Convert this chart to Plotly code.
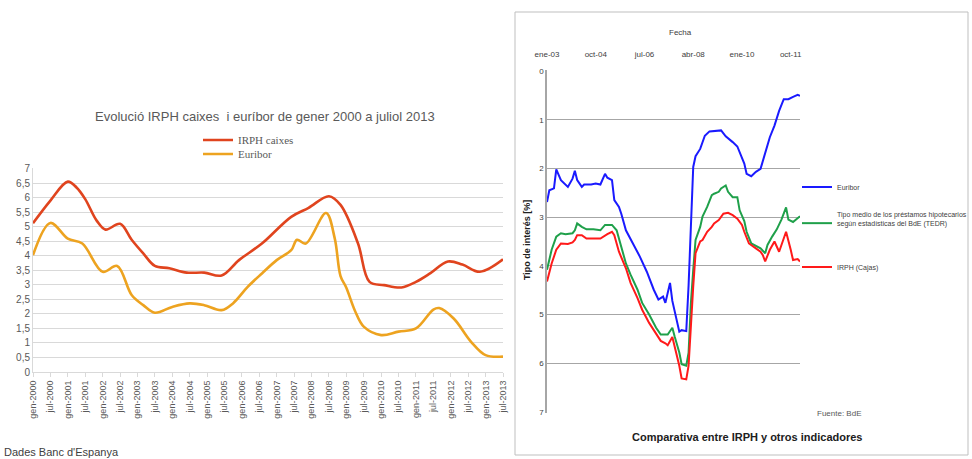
import plotly.graph_objects as go

# ---------------- Left chart data (months since gen-2000) ----------------
left_irph_months = [0, 6, 12, 15, 18, 22, 25, 30, 34, 38, 42, 47, 53, 59, 65, 71, 79, 89, 95, 102, 106, 112, 116, 121, 127, 132, 137, 143, 148, 154, 162]
left_irph_values = [5.12, 5.9, 6.55, 6.35, 5.95, 5.2, 4.9, 5.1, 4.55, 4.08, 3.65, 3.57, 3.42, 3.42, 3.32, 3.85, 4.43, 5.34, 5.65, 6.05, 5.75, 4.43, 3.1, 2.99, 2.91, 3.1, 3.4, 3.8, 3.7, 3.45, 3.88]

left_eur_months = [0, 6, 12, 17, 24, 29, 34, 38, 42, 48, 54, 59, 65, 69, 74, 79, 84, 89, 91, 94, 101, 104, 106, 108, 111, 114, 120, 126, 132, 138, 140, 145, 151, 156, 162]
left_eur_values = [4.02, 5.13, 4.59, 4.42, 3.45, 3.65, 2.65, 2.3, 2.04, 2.24, 2.36, 2.3, 2.13, 2.37, 2.93, 3.4, 3.85, 4.19, 4.55, 4.42, 5.47, 4.6, 3.3, 2.9, 2.1, 1.56, 1.27, 1.39, 1.5, 2.15, 2.2, 1.84, 1.04, 0.58, 0.53]

left_tick_months = list(range(0, 163, 6))
left_tick_labels = []
for yr in range(2000, 2014):
    left_tick_labels += ["gen-%d" % yr, "jul-%d" % yr]
left_y_vals = [i * 0.5 for i in range(15)]
left_y_text = [("%g" % v).replace(".", ",") for v in left_y_vals]

# ---------------- Right chart data (months since ene-03) ----------------
r_eur_m = [0, 1, 3, 4, 6, 7, 9, 11, 12, 13, 15, 16, 19, 21, 23, 25, 26, 28, 29, 31, 32, 34, 36, 40, 43, 46, 48, 50, 51, 53, 54, 57, 58, 60, 61, 62, 63, 64, 66, 68, 70, 75, 77, 80, 82, 85, 86, 88, 90, 92, 94, 96, 98, 100, 102, 104, 106, 108, 109]
r_eur_v = [2.69, 2.45, 2.41, 2.02, 2.24, 2.28, 2.38, 2.21, 2.05, 2.24, 2.38, 2.33, 2.33, 2.31, 2.33, 2.11, 2.19, 2.24, 2.65, 2.79, 2.93, 3.27, 3.45, 3.81, 4.12, 4.49, 4.69, 4.63, 4.76, 4.35, 4.72, 5.35, 5.32, 5.34, 4.4, 3.2, 1.97, 1.75, 1.6, 1.33, 1.24, 1.22, 1.34, 1.46, 1.55, 1.9, 2.11, 2.16, 2.07, 2.01, 1.67, 1.36, 1.12, 0.82, 0.58, 0.58, 0.53, 0.49, 0.51]

r_tedr_m = [0, 2, 4, 6, 8, 11, 12, 13, 15, 17, 20, 23, 25, 28, 30, 32, 34, 36, 39, 41, 44, 47, 49, 52, 54, 55, 57, 58, 60, 61, 62, 63, 64, 66, 67, 69, 71, 72, 74, 75, 77, 78, 80, 82, 83, 85, 86, 88, 90, 92, 94, 95, 97, 99, 101, 103, 104, 106, 109]
r_tedr_v = [4.08, 3.67, 3.4, 3.33, 3.35, 3.33, 3.27, 3.13, 3.2, 3.25, 3.25, 3.27, 3.16, 3.16, 3.27, 3.61, 3.95, 4.18, 4.49, 4.76, 5.0, 5.27, 5.41, 5.41, 5.27, 5.45, 5.78, 6.02, 6.05, 5.78, 4.76, 4.08, 3.47, 3.2, 2.99, 2.79, 2.55, 2.52, 2.48, 2.41, 2.35, 2.48, 2.59, 2.59, 2.86, 3.08, 3.3, 3.54, 3.59, 3.64, 3.74, 3.57, 3.4, 3.25, 3.05, 2.8, 3.05, 3.1, 2.98]

r_irph_m = [0, 2, 4, 6, 9, 11, 12, 13, 15, 17, 20, 23, 26, 28, 29, 31, 34, 36, 39, 41, 44, 47, 49, 51, 52, 54, 55, 57, 58, 60, 61, 62, 63, 64, 66, 67, 69, 71, 72, 74, 76, 78, 80, 82, 84, 85, 87, 90, 92, 93, 94, 96, 98, 100, 101, 103, 105, 106, 108, 109]
r_irph_v = [4.32, 3.95, 3.67, 3.54, 3.55, 3.52, 3.47, 3.37, 3.37, 3.44, 3.44, 3.44, 3.35, 3.3, 3.37, 3.71, 4.05, 4.35, 4.66, 4.9, 5.17, 5.41, 5.54, 5.59, 5.63, 5.46, 5.65, 6.05, 6.31, 6.33, 6.05, 5.1, 4.42, 3.74, 3.5, 3.47, 3.3, 3.2, 3.13, 3.06, 2.93, 2.91, 2.96, 3.03, 3.16, 3.3, 3.54, 3.64, 3.71, 3.78, 3.91, 3.67, 3.5, 3.71, 3.57, 3.3, 3.67, 3.88, 3.86, 3.91]

right_tick_months = [0, 21, 42, 63, 84, 105]
right_tick_labels = ["ene-03", "oct-04", "jul-06", "abr-08", "ene-10", "oct-11"]
right_y_vals = list(range(8))

W, H = 972, 459
def px(x):
    return x / W
def py(y):
    return (H - y) / H

fig = go.Figure()

fig.add_trace(go.Scatter(x=left_irph_months, y=left_irph_values, mode="lines", name="IRPH caixes",
                         line=dict(color="#E0441E", width=2.6, shape="spline"),
                         xaxis="x", yaxis="y", legend="legend"))
fig.add_trace(go.Scatter(x=left_eur_months, y=left_eur_values, mode="lines", name="Euribor",
                         line=dict(color="#EDA320", width=2.6, shape="spline"),
                         xaxis="x", yaxis="y", legend="legend2"))

fig.add_trace(go.Scatter(x=r_eur_m, y=r_eur_v, mode="lines", name="Euribor",
                         line=dict(color="#1a1aff", width=2),
                         xaxis="x2", yaxis="y2", legend="legend3"))
fig.add_trace(go.Scatter(x=r_tedr_m, y=r_tedr_v, mode="lines",
                         name="Tipo medio de los préstamos hipotecarios<br>según estadísticas del BdE (TEDR)",
                         line=dict(color="#1fa04a", width=2),
                         xaxis="x2", yaxis="y2", legend="legend4"))
fig.add_trace(go.Scatter(x=r_irph_m, y=r_irph_v, mode="lines", name="IRPH (Cajas)",
                         line=dict(color="#ff1a1a", width=2),
                         xaxis="x2", yaxis="y2", legend="legend5"))

grey = "#595959"
left_leg_font = dict(family="Liberation Serif, serif", size=11, color=grey)
right_leg_font = dict(size=7, color="#404040")
def leg(x, y, font, valign="middle"):
    return dict(x=px(x), y=py(y), xanchor="left", yanchor="middle", font=font,
                bgcolor="rgba(0,0,0,0)", itemwidth=30, valign=valign)

fig.update_layout(
    width=W, height=H,
    margin=dict(l=0, r=0, t=0, b=0, autoexpand=False),
    paper_bgcolor="white", plot_bgcolor="white",
    font=dict(family="Liberation Sans, Arial, sans-serif", color=grey),
    xaxis=dict(domain=[px(33), px(503)], range=[0, 162], anchor="y", automargin=False,
               tickvals=left_tick_months, ticktext=left_tick_labels, tickangle=-90,
               tickfont=dict(size=9, color=grey), showgrid=False, zeroline=False,
               showline=True, linecolor="#d9d9d9", ticks="outside", ticklen=4, tickcolor="#d9d9d9"),
    yaxis=dict(domain=[py(372), py(168)], range=[0, 7.02], anchor="x", automargin=False,
               tickvals=left_y_vals, ticktext=left_y_text, tickfont=dict(size=10, color=grey),
               showgrid=True, gridcolor="#d9d9d9", zeroline=False,
               showline=True, linecolor="#d9d9d9"),
    xaxis2=dict(domain=[px(547), px(800)], range=[0, 109], anchor="y2", side="top", automargin=False,
                tickvals=right_tick_months, ticktext=right_tick_labels, ticklabelstandoff=10,
                tickfont=dict(size=8, color="#404040"), showgrid=False, zeroline=False,
                showline=False),
    yaxis2=dict(domain=[py(413), py(70)], range=[7.02, -0.02], anchor="x2", automargin=False,
                tickvals=right_y_vals, tickfont=dict(size=8, color="#404040"),
                showgrid=True, gridcolor="#a6a6a6", zeroline=False,
                showline=True, linecolor="#a6a6a6", linewidth=1.5),
    legend=leg(198, 140, left_leg_font),
    legend2=leg(198, 154, left_leg_font),
    legend3=leg(797, 187, right_leg_font),
    legend4=leg(797, 219, right_leg_font, valign="bottom"),
    legend5=leg(797, 267, right_leg_font),
    showlegend=True,
)

fig.add_shape(type="rect", xref="paper", yref="paper",
              x0=px(515), x1=px(968), y0=py(455), y1=py(12),
              line=dict(color="#bfbfbf", width=1), fillcolor="rgba(0,0,0,0)", layer="below")

fig.add_annotation(text="Evolució IRPH caixes  i euríbor de gener 2000 a juliol 2013",
                   x=px(265), y=py(117), xref="paper", yref="paper", showarrow=False,
                   font=dict(size=13, color=grey), xanchor="center", yanchor="middle")
fig.add_annotation(text="Dades Banc d'Espanya", x=px(2), y=py(452), xref="paper", yref="paper",
                   showarrow=False, font=dict(size=11, color="#404040"), xanchor="left", yanchor="middle")
fig.add_annotation(text="<b>Comparativa entre IRPH y otros indicadores</b>", x=px(747), y=py(437),
                   xref="paper", yref="paper", showarrow=False, font=dict(size=11, color="#202020"),
                   xanchor="center", yanchor="middle")
fig.add_annotation(text="Fecha", x=px(680), y=py(33), xref="paper", yref="paper", showarrow=False,
                   font=dict(size=8, color="#404040"), xanchor="center", yanchor="middle")
fig.add_annotation(text="<b>Tipo de interés [%]</b>", x=px(527), y=py(240), xref="paper", yref="paper",
                   showarrow=False, textangle=-90, font=dict(size=9, color="#202020"),
                   xanchor="center", yanchor="middle")
fig.add_annotation(text="Fuente: BdE", x=px(815), y=py(413), xref="paper", yref="paper", showarrow=False,
                   font=dict(size=8, color=grey), xanchor="left", yanchor="middle")

fig.write_html("out.html", config={"displayModeBar": False},
               post_script="document.body.style.margin='0';document.body.style.padding='0';")
